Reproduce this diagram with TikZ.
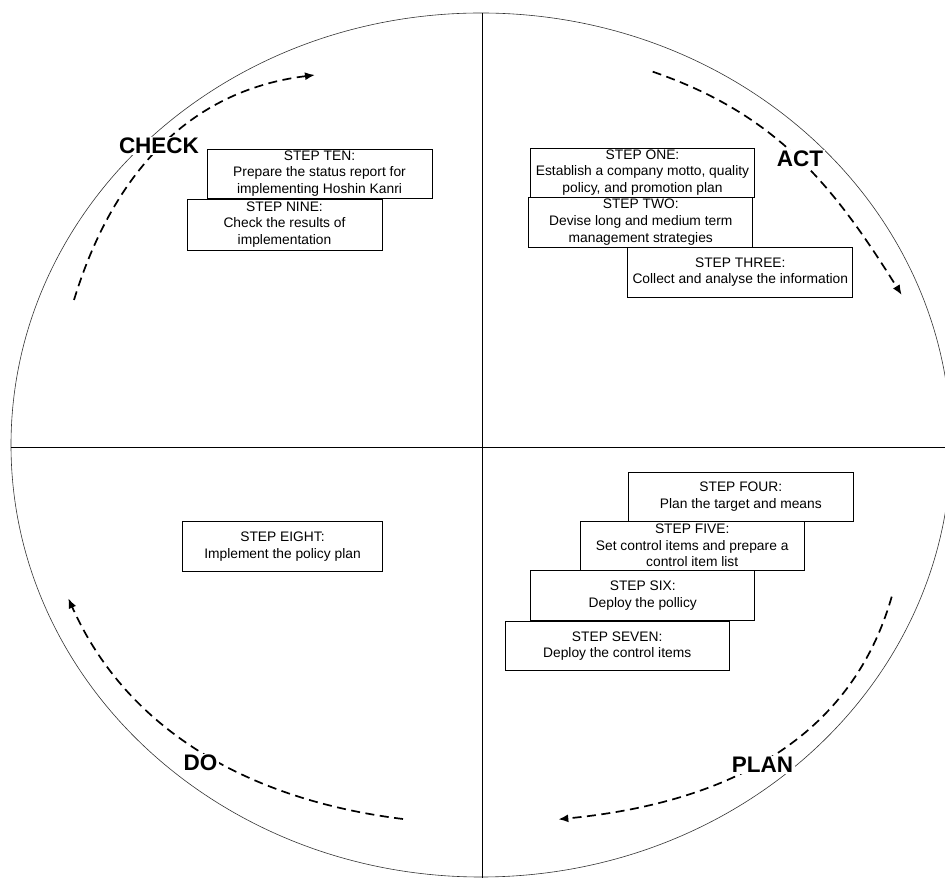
\documentclass[tikz,border=0pt]{standalone}
\usepackage{fontspec}
\setmainfont{Liberation Sans}
\usetikzlibrary{arrows.meta}
\tikzset{
  stepbox/.style={draw=black, line width=0.8pt, fill=white, inner sep=0pt, align=center,
    font=\fontsize{13.8}{16.7}\selectfont},
  phase/.style={fill=white, inner sep=1.5pt, font=\fontsize{22.5}{24}\selectfont\bfseries},
  cyc/.style={line width=1.7pt, dash pattern=on 9pt off 5.5pt, -{Latex[length=10pt,width=8pt]}},
  rim/.style={line width=0.6pt, draw=black!80},
  axis/.style={line width=0.8pt}
}
\begin{document}
\begin{tikzpicture}[x=1pt,y=1pt]
\useasboundingbox (0,0) rectangle (945,878);
\clip (0,0) rectangle (945,878);
% circle and quadrants
\draw[rim] (481,433) ellipse [x radius=470, y radius=432];
\coordinate (vt) at (482,865);
\coordinate (vb) at (482,0);
\coordinate (hl) at (11,431);
\coordinate (hr) at (945,431);
\draw[axis] (vt) -- (vb);
\draw[axis] (hl) -- (hr);
% cycle arcs
\coordinate (cS) at (74,578);   \coordinate (cE) at (315,803);
\coordinate (aS) at (652.7,806.3); \coordinate (aE) at (901.7,583);
\coordinate (pS) at (891.7,281.3); \coordinate (pE) at (558.3,58.7);
\coordinate (dS) at (403,59);   \coordinate (dE) at (68.3,279.7);
\draw[cyc] (cS) to[out=73,in=187] (cE);
\draw[cyc] (aS) to[out=-19,in=122] (aE);
\draw[cyc] (pS) to[out=254,in=5.5] (pE);
\draw[cyc] (dS) to[out=173,in=294,looseness=0.95] (dE);
% phase labels
\node[phase] (check) at (159,732) {CHECK};
\node[phase] (act) at (800,719) {ACT};
\node[phase] (plan) at (762.5,113) {PLAN};
\node[phase] (do) at (200.5,115) {DO};
% step boxes
\node[stepbox, minimum width=225pt, minimum height=49pt] (ten) at (319.5,704.5)
  {STEP TEN:\\Prepare the status report for\\implementing Hoshin Kanri};
\node[stepbox, minimum width=195pt, minimum height=51pt] (nine) at (284.5,653.5)
  {STEP NINE:\\Check the results of\\implementation};
\node[stepbox, minimum width=224pt, minimum height=49pt] (one) at (642.5,705.5)
  {STEP ONE:\\Establish a company motto, quality\\policy, and promotion plan};
\node[stepbox, minimum width=224pt, minimum height=50pt] (two) at (640.8,656)
  {STEP TWO:\\Devise long and medium term\\management strategies};
\node[stepbox, minimum width=225pt, minimum height=50pt] (three) at (740.3,606)
  {STEP THREE:\\Collect and analyse the information};
\node[stepbox, minimum width=225pt, minimum height=49pt] (four) at (740.8,381.3)
  {STEP FOUR:\\Plan the target and means};
\node[stepbox, minimum width=224pt, minimum height=49pt] (five) at (692.2,332.5)
  {STEP FIVE:\\Set control items and prepare a\\control item list};
\node[stepbox, minimum width=224pt, minimum height=50pt] (six) at (642.8,282.2)
  {STEP SIX:\\Deploy the pollicy};
\node[stepbox, minimum width=224pt, minimum height=49pt] (seven) at (617.2,231.8)
  {STEP SEVEN:\\Deploy the control items};
\node[stepbox, minimum width=200pt, minimum height=50pt] (eight) at (282.5,331.3)
  {STEP EIGHT:\\Implement the policy plan};
\end{tikzpicture}
\end{document}
